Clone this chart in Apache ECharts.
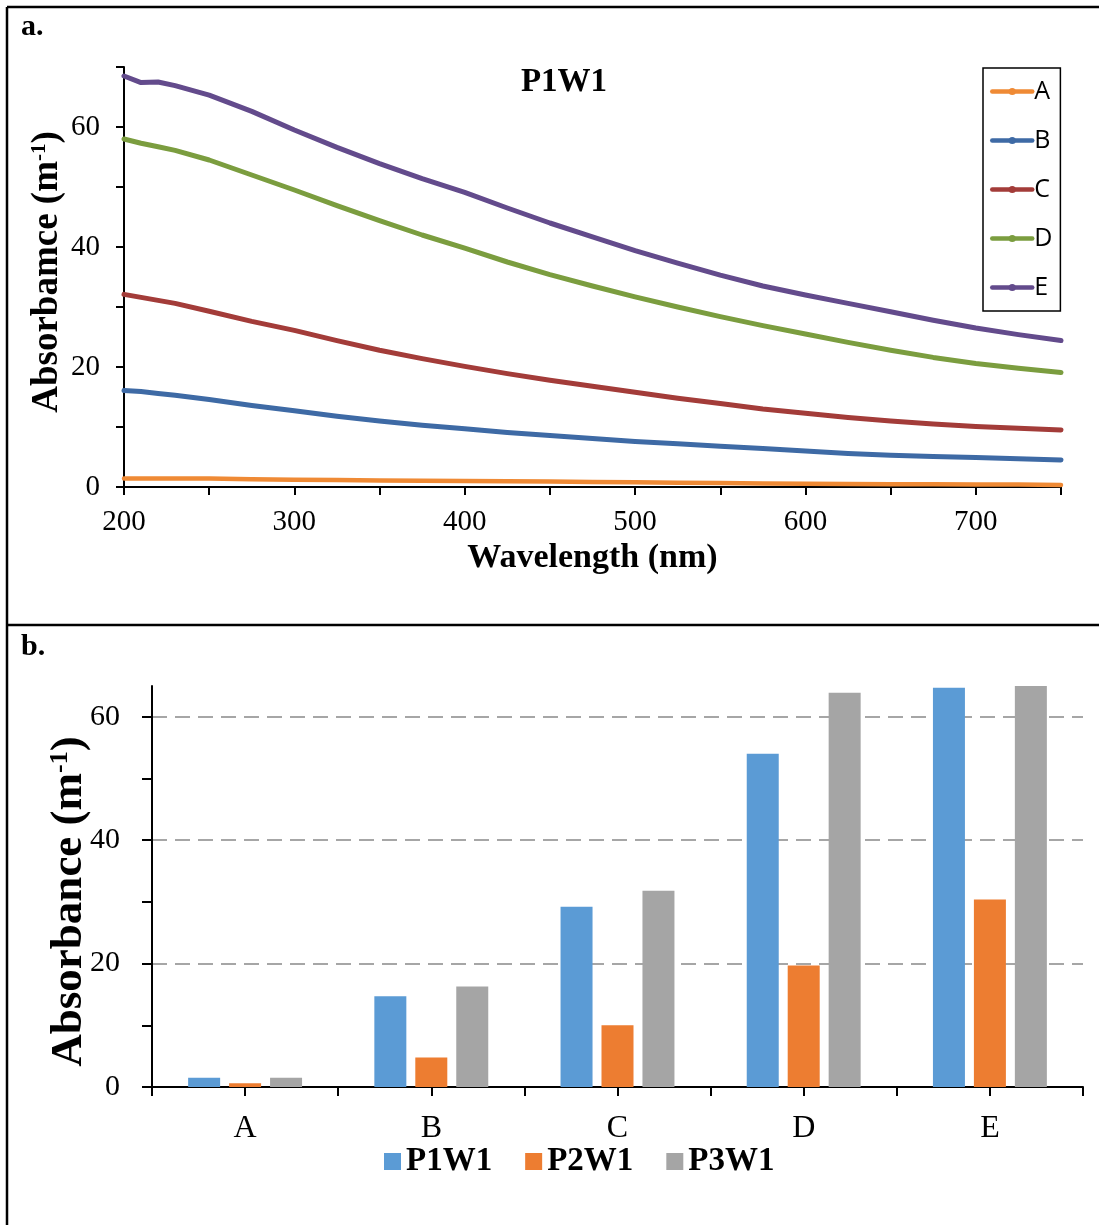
<!DOCTYPE html>
<html>
<head>
<meta charset="utf-8">
<script src="https://cdn.jsdelivr.net/npm/echarts@6/dist/echarts.min.js"></script>
<style>
  html, body { margin: 0; padding: 0; background: #fff; }
  #chart { width: 1099px; height: 1225px; }
</style>
</head>
<body>
<div id="chart"></div>
<script>
// Panel a: absorbance spectra (m^-1) against wavelength (nm)
const wavelength = [200, 210, 220, 230, 250, 275, 300, 325, 350, 375, 400, 425, 450, 475, 500, 525, 550, 575, 600, 625, 650, 675, 700, 725, 750];
const specA = [1.4, 1.4, 1.4, 1.4, 1.4, 1.3, 1.2, 1.15, 1.1, 1.05, 1.0, 0.95, 0.9, 0.85, 0.8, 0.7, 0.65, 0.6, 0.55, 0.5, 0.45, 0.45, 0.4, 0.4, 0.35];
const specB = [16.1, 15.9, 15.6, 15.3, 14.6, 13.6, 12.7, 11.8, 11.0, 10.3, 9.7, 9.1, 8.6, 8.1, 7.6, 7.2, 6.8, 6.4, 6.0, 5.6, 5.3, 5.1, 4.9, 4.7, 4.5];
const specC = [32.1, 31.6, 31.1, 30.6, 29.3, 27.6, 26.1, 24.4, 22.8, 21.4, 20.1, 18.9, 17.8, 16.8, 15.8, 14.8, 13.9, 13.0, 12.3, 11.6, 11.0, 10.5, 10.1, 9.8, 9.5];
const specD = [58.0, 57.3, 56.7, 56.1, 54.5, 52.0, 49.5, 46.9, 44.4, 42.0, 39.8, 37.5, 35.4, 33.5, 31.7, 30.0, 28.4, 26.9, 25.5, 24.1, 22.8, 21.6, 20.6, 19.8, 19.1];
const specE = [68.5, 67.4, 67.5, 66.9, 65.3, 62.6, 59.5, 56.6, 53.9, 51.4, 49.1, 46.5, 44.0, 41.7, 39.4, 37.3, 35.3, 33.5, 32.0, 30.6, 29.2, 27.8, 26.5, 25.4, 24.4];

// Panel b: absorbance per sample group
const groups = ['A', 'B', 'C', 'D', 'E'];
const p1w1 = [1.5, 14.7, 29.2, 54.0, 64.7];
const p2w1 = [0.6, 4.8, 10.0, 19.7, 30.4];
const p3w1 = [1.5, 16.3, 31.8, 63.9, 65.0];

const SERIF = '"Liberation Serif", "Times New Roman", serif';
const SANS = '"Open Sans", "Liberation Sans", sans-serif';

const lineColors = { A: '#ef8a35', B: '#3e6aa5', C: '#a33c39', D: '#7b9d3f', E: '#634b8c' };
const spectra = { A: specA, B: specB, C: specC, D: specD, E: specE };

const lineSeries = Object.keys(spectra).map(function (k) {
  return {
    name: k,
    type: 'line',
    xAxisIndex: 0,
    yAxisIndex: 0,
    data: wavelength.map(function (w, i) { return [w, spectra[k][i]]; }),
    symbol: 'circle',
    symbolSize: 7,
    showSymbol: false,
    color: lineColors[k],
    lineStyle: { width: k === 'A' ? 4.5 : 5, color: lineColors[k], cap: 'round', join: 'round' },
    emphasis: { disabled: true },
    z: 3
  };
});

const barColors = ['#5b9bd5', '#ed7d31', '#a5a5a5'];
const barSeries = [['P1W1', p1w1], ['P2W1', p2w1], ['P3W1', p3w1]].map(function (s, i) {
  return {
    name: s[0],
    type: 'bar',
    xAxisIndex: 1,
    yAxisIndex: 1,
    data: s[1],
    barWidth: 32,
    barGap: '28%',
    itemStyle: { color: barColors[i] },
    emphasis: { disabled: true }
  };
});

const axisBlack = { show: true, lineStyle: { color: '#000', width: 2 } };

const option = {
  animation: false,
  backgroundColor: '#fff',
  title: {
    text: 'P1W1',
    left: 559,
    top: 61,
    textAlign: 'center',
    textStyle: { fontFamily: SERIF, fontWeight: 'bold', fontSize: 33, color: '#000' }
  },
  legend: [
    {
      data: ['A', 'B', 'C', 'D', 'E'],
      orient: 'vertical',
      left: 983,
      top: 68,
      width: 75,
      padding: [11, 8, 11, 7],
      itemGap: 24,
      itemWidth: 40,
      itemHeight: 9,
      borderColor: '#000',
      borderWidth: 1.5,
      lineStyle: { width: 4.5 },
      textStyle: { fontFamily: SANS, fontSize: 25, color: '#000', lineHeight: 24, padding: [0, 0, 0, -3] },
      selectedMode: false
    },
    {
      data: ['P1W1', 'P2W1', 'P3W1'],
      orient: 'horizontal',
      left: 379,
      top: 1140,
      itemGap: 33,
      itemWidth: 17,
      itemHeight: 17,
      icon: 'rect',
      textStyle: { fontFamily: SERIF, fontWeight: 'bold', fontSize: 33, color: '#000' },
      selectedMode: false
    }
  ],
  grid: [
    { left: 124, right: 38, top: 67, bottom: 738, containLabel: false },
    { left: 152, right: 16, top: 686, bottom: 138, containLabel: false }
  ],
  xAxis: [
    {
      gridIndex: 0,
      type: 'value',
      min: 200,
      max: 750,
      interval: 50,
      axisLine: axisBlack,
      axisTick: { show: true, length: 8, lineStyle: { color: '#000', width: 2 } },
      axisLabel: {
        margin: 21,
        fontFamily: SERIF,
        fontSize: 29,
        color: '#000',
        formatter: function (v) { return v % 100 === 0 ? String(v) : ''; }
      },
      splitLine: { show: false },
      name: 'Wavelength (nm)',
      nameLocation: 'middle',
      nameGap: 54,
      nameMoveOverlap: false,
      nameTextStyle: { fontFamily: SERIF, fontWeight: 'bold', fontSize: 34, color: '#000' }
    },
    {
      gridIndex: 1,
      type: 'category',
      data: groups,
      position: 'bottom',
      axisLine: axisBlack,
      axisTick: { show: true, length: 9, alignWithLabel: false, lineStyle: { color: '#000', width: 2 } },
      axisLabel: { margin: 26, fontFamily: SERIF, fontSize: 32, color: '#000' },
      splitLine: { show: false }
    },
    {
      // extra ticks under each category centre
      gridIndex: 1,
      type: 'category',
      data: groups,
      position: 'bottom',
      axisLine: { show: false },
      axisTick: { show: true, length: 9, alignWithLabel: true, lineStyle: { color: '#000', width: 2 } },
      axisLabel: { show: false },
      splitLine: { show: false }
    }
  ],
  yAxis: [
    {
      gridIndex: 0,
      type: 'value',
      min: 0,
      max: 70,
      interval: 10,
      axisLine: axisBlack,
      axisTick: { show: true, length: 8, lineStyle: { color: '#000', width: 2 } },
      axisLabel: {
        margin: 24,
        fontFamily: SERIF,
        fontSize: 29,
        color: '#000',
        formatter: function (v) { return v % 20 === 0 ? String(v) : ''; }
      },
      splitLine: { show: false },
      name: 'Absorbamce (m{sup|-1})',
      nameLocation: 'middle',
      nameGap: 58,
      nameMoveOverlap: false,
      nameTextStyle: {
        fontFamily: SERIF, fontWeight: 'bold', fontSize: 37, color: '#000',
        padding: [0, 0, 0, 10],
        rich: { sup: { fontFamily: SERIF, fontWeight: 'bold', fontSize: 21, verticalAlign: 'top', lineHeight: 18, color: '#000' } }
      }
    },
    {
      gridIndex: 1,
      type: 'value',
      min: 0,
      max: 65,
      interval: 10,
      position: 'left',
      axisLine: axisBlack,
      axisTick: { show: true, length: 10, customValues: [0, 10, 20, 30, 40, 50, 60], lineStyle: { color: '#000', width: 2 } },
      axisLabel: {
        margin: 32,
        fontFamily: SERIF,
        fontSize: 30,
        color: '#000',
        customValues: [0, 20, 40, 60],
        formatter: function (v) { return v % 20 === 0 ? String(v) : ''; }
      },
      splitLine: { show: false },
      name: 'Absorbance (m{sup|-1})',
      nameLocation: 'middle',
      nameGap: 60,
      nameMoveOverlap: false,
      nameTextStyle: {
        fontFamily: SERIF, fontWeight: 'bold', fontSize: 45, color: '#000',
        padding: [0, 30, 0, 0],
        rich: { sup: { fontFamily: SERIF, fontWeight: 'bold', fontSize: 26, verticalAlign: 'top', lineHeight: 22, color: '#000' } }
      }
    },
    {
      // dashed gridlines at the labelled values
      gridIndex: 1,
      type: 'value',
      min: 0,
      max: 65,
      interval: 20,
      position: 'left',
      axisLine: { show: false },
      axisTick: { show: false },
      axisLabel: { show: false },
      splitLine: {
        show: true,
        showMinLine: false,
        showMaxLine: false,
        lineStyle: { color: '#a6a6a6', width: 2, type: [15, 8] }
      }
    }
  ],
  graphic: [
    { type: 'line', shape: { x1: 7, y1: 7, x2: 1099, y2: 7 }, style: { stroke: '#000', lineWidth: 2.5 }, z: 100 },
    { type: 'line', shape: { x1: 7, y1: 7, x2: 7, y2: 1225 }, style: { stroke: '#000', lineWidth: 2.5 }, z: 100 },
    { type: 'line', shape: { x1: 7, y1: 625, x2: 1099, y2: 625 }, style: { stroke: '#000', lineWidth: 2.5 }, z: 100 },
    { type: 'text', left: 21, top: 12, style: { text: 'a.', font: 'bold 30px ' + SERIF, fill: '#000' }, z: 100 },
    { type: 'text', left: 21, top: 632, style: { text: 'b.', font: 'bold 30px ' + SERIF, fill: '#000' }, z: 100 }
  ],
  series: lineSeries.concat(barSeries)
};

const chart = echarts.init(document.getElementById('chart'), null, { renderer: 'canvas' });
chart.setOption(option);
</script>
</body>
</html>
